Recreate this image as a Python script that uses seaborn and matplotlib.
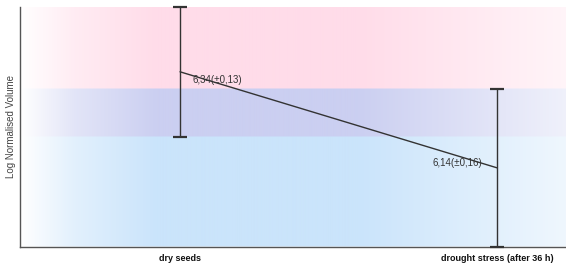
import numpy as np
import pandas as pd
import matplotlib
matplotlib.use('Agg')
import matplotlib.pyplot as plt
import seaborn as sns

# ── data ────────────────────────────────────────────────────────────────
conditions = ['dry seeds', 'drought stress (after 36 h)']
means = [6.34, 6.14]
errors = [0.135, 0.165]          # as drawn (labels show rounded values)
labels = ['6,34(±0,13)', '6,14(±0,16)']

df = pd.DataFrame({'pos': [0, 1], 'mean': means, 'err': errors})

sns.set_theme(style='white')
plt.rcParams['font.family'] = ['Liberation Sans', 'DejaVu Sans']

fig = plt.figure(figsize=(5.66, 2.64), dpi=100)
ax = fig.add_axes([20 / 566, 17 / 264, 546 / 566, 240 / 264])

x_lo, x_hi = -0.505, 1.218
y_lo = means[1] - errors[1]
y_hi = means[0] + errors[0]
ax.set_xlim(x_lo, x_hi)
ax.set_ylim(y_lo, y_hi)

# ── background bands (mean ± err of each condition)
pink = np.array([255, 220, 233]) / 255
blue = np.array([202, 228, 251]) / 255
both = np.array([203, 207, 241]) / 255
ny, nx = 480, 600
ys = np.linspace(y_hi, y_lo, ny)
xs = np.linspace(0, 1, nx)
col = np.ones((ny, 3))
in_pink = np.abs(ys - means[0]) <= errors[0]
in_blue = np.abs(ys - means[1]) <= errors[1]
col[in_pink] = pink
col[in_blue] = blue
col[in_pink & in_blue] = both
# horizontal fade: white at the left, full in the middle, lighter at the right
fade = np.interp(xs, [0, 0.1, 0.25, 0.62, 1.0], [0.0, 0.55, 1.0, 1.0, 0.3])
img = 1 - (1 - col[:, None, :]) * fade[None, :, None]
ax.imshow(img, extent=[x_lo, x_hi, y_lo, y_hi], aspect='auto',
          interpolation='bilinear', zorder=0)

# ── line + error bars
sns.lineplot(data=df, x='pos', y='mean', color='#333333', linewidth=1.0,
             ax=ax, zorder=3)
ax.errorbar(df['pos'], df['mean'], yerr=df['err'], fmt='none',
            ecolor='#333333', elinewidth=1.0, capsize=5, capthick=1.6,
            zorder=3, clip_on=False)

ax.text(0.04, means[0] - 0.018, labels[0], fontsize=7, color='#333333',
        ha='left', va='center', zorder=4)
ax.text(0.955, means[1] + 0.011, labels[1], fontsize=7, color='#333333',
        ha='right', va='center', zorder=4)

ax.set_xticks(df['pos'])
ax.set_xticklabels(conditions, fontsize=6.5, fontweight='bold', color='#111111')
ax.set_yticks([])
ax.tick_params(axis='x', length=0, pad=5)
ax.set_xlabel('')
ax.set_ylabel('Log Normalised Volume', fontsize=7, color='#444444', labelpad=3)

for s in ['top', 'right']:
    ax.spines[s].set_visible(False)
for s in ['left', 'bottom']:
    ax.spines[s].set_color('#555555')
    ax.spines[s].set_linewidth(1.0)

fig.savefig('out.png', dpi=100)
